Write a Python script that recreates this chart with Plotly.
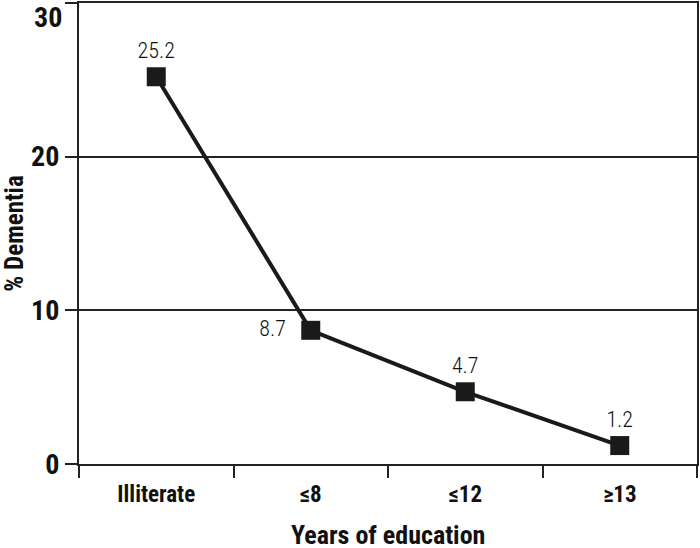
import plotly.graph_objects as go

# data
categories = ["Illiterate", "≤8", "≤12", "≥13"]
dementia_pct = [25.2, 8.7, 4.7, 1.2]
value_labels = ["25.2", "8.7", "4.7", "1.2"]
label_pos = ["top center", "middle left", "top center", "top center"]
y_ticks = [0, 10, 20, 30]

FONT = "Roboto Condensed, Roboto, sans-serif"
INK = "#1a1a1a"

fig = go.Figure()

# line with square markers
fig.add_trace(go.Scatter(
    x=categories,
    y=dementia_pct,
    mode="lines+markers",
    line=dict(color=INK, width=4),
    marker=dict(symbol="square", size=19, color=INK),
    showlegend=False,
    hoverinfo="skip",
))

# value labels (invisible markers set the text offset)
fig.add_trace(go.Scatter(
    x=categories,
    y=dementia_pct,
    mode="markers+text",
    marker=dict(size=[20, 38, 20, 20], opacity=0),
    text=value_labels,
    textposition=label_pos,
    textfont=dict(family=FONT, size=22, color="#111", weight=300),
    cliponaxis=False,
    showlegend=False,
))

# top tick label sits a little lower so it is not cut by the page edge
fig.add_annotation(
    x=0, xref="paper", xanchor="right", xshift=-15,
    y=y_ticks[-1], yref="y", yanchor="top", yshift=4,
    text="<b>%d</b>" % y_ticks[-1], showarrow=False,
    font=dict(family=FONT, size=28, color="#111"),
)

# x axis title
fig.add_annotation(
    x=0.5, xref="paper", xanchor="center",
    y=0, yref="paper", yanchor="middle", yshift=-71,
    text="<b>Years of education</b>", showarrow=False,
    font=dict(family=FONT, size=26, color="#111"),
)

fig.update_layout(
    width=700,
    height=548,
    margin=dict(l=79, r=3, t=3, b=84, autoexpand=False),
    plot_bgcolor="white",
    paper_bgcolor="white",
    font=dict(family=FONT, color="#111"),
    xaxis=dict(
        range=[-0.5, 3.5],
        automargin=False,
        showline=True, linecolor="#222", linewidth=2, mirror=True,
        ticks="outside", tickson="boundaries", ticklen=12, tickwidth=2, tickcolor="#222",
        ticklabelstandoff=8,
        showgrid=False,
        tickfont=dict(size=23, family=FONT, weight="bold"),
    ),
    yaxis=dict(
        range=[0, 30],
        automargin=False,
        tickvals=y_ticks,
        ticktext=[str(v) for v in y_ticks[:-1]] + [""],
        showline=True, linecolor="#222", linewidth=2, mirror=True,
        ticks="outside", ticklen=12, tickwidth=2, tickcolor="#222",
        showgrid=True, gridcolor="#222", gridwidth=1.5,
        zeroline=False,
        tickfont=dict(size=28, family=FONT, weight="bold"),
        title=dict(text="<b>% Dementia</b>", font=dict(size=25), standoff=6),
    ),
)

fig.write_html("out.html", config={"displayModeBar": False},
               post_script="document.body.style.margin='0';")
